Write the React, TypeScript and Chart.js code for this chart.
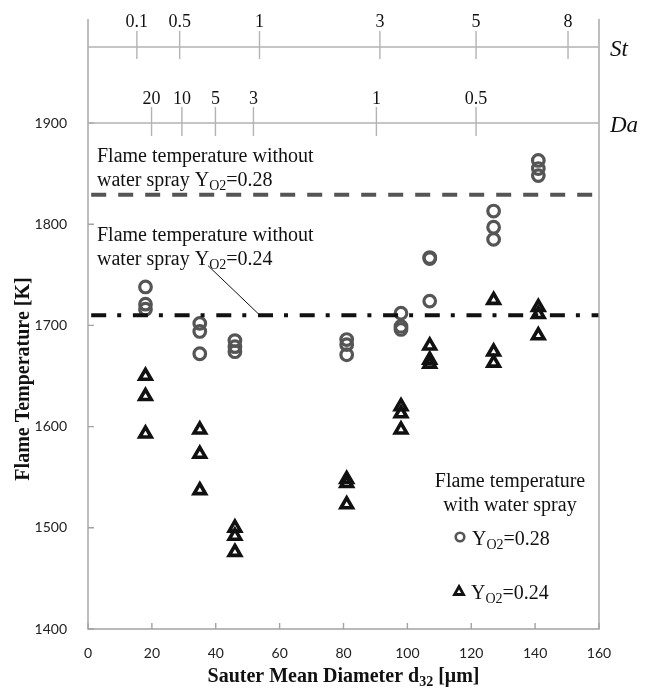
import React, { useEffect, useRef } from 'react';
import { Chart, registerables } from 'chart.js';

Chart.register(...registerables);

// Sauter mean diameter of each measured case [µm]
const clusterX = [18, 35, 46, 81, 98, 107, 127, 141];
// Flame temperature with water spray, Y_O2 = 0.28 [K]
const temps028 = [
  [1738, 1721, 1716],
  [1702, 1694, 1672],
  [1685, 1679, 1674],
  [1686, 1681, 1671],
  [1712, 1699, 1696],
  [1767, 1766, 1724],
  [1813, 1797, 1785],
  [1863, 1855, 1848],
];
// Flame temperature with water spray, Y_O2 = 0.24 [K]
const temps024 = [
  [1650, 1630, 1593],
  [1597, 1573, 1537],
  [1500, 1492, 1476],
  [1548, 1544, 1523],
  [1620, 1613, 1597],
  [1680, 1666, 1662],
  [1725, 1674, 1663],
  [1718, 1711, 1690],
];
// Flame temperature without water spray [K]
const noSpray028 = 1829;
const noSpray024 = 1710;
const refLineX = [1, 160];
// Leader line from annotation to the dash-dot line
const leaderX = [37.6, 53.5];
const leaderY = [1759, 1711];

// Secondary axes (Stokes and Damköhler numbers) located on d32 scale
const stLabels = ['0.1', '0.5', '1', '3', '5', '8'];
const stAtD32 = [15.3, 28.7, 53.7, 91.4, 121.5, 150.3];
const daLabels = ['20', '10', '5', '3', '1', '0.5'];
const daAtD32 = [19.9, 29.4, 39.9, 51.8, 90.3, 121.5];

const xTickValues = [0, 20, 40, 60, 80, 100, 120, 140, 160];
const yTickValues = [1400, 1500, 1600, 1700, 1800, 1900];

const SERIF = '"Liberation Serif", "Times New Roman", serif';

type Part = { t: string; sub?: boolean };

function richWidth(ctx: CanvasRenderingContext2D, parts: Part[], size: number, bold = false) {
  let w = 0;
  for (const p of parts) {
    ctx.font = `${bold ? 'bold ' : ''}${p.sub ? Math.round(size * 0.7) : size}px ${SERIF}`;
    w += ctx.measureText(p.t).width;
  }
  return w;
}

function drawRich(
  ctx: CanvasRenderingContext2D,
  parts: Part[],
  x: number,
  y: number,
  size: number,
  align: 'left' | 'center' = 'left',
  bold = false
) {
  let cx = align === 'center' ? x - richWidth(ctx, parts, size, bold) / 2 : x;
  ctx.textAlign = 'left';
  ctx.textBaseline = 'alphabetic';
  for (const p of parts) {
    const s = p.sub ? Math.round(size * 0.7) : size;
    ctx.font = `${bold ? 'bold ' : ''}${s}px ${SERIF}`;
    ctx.fillText(p.t, cx, p.sub ? y + size * 0.22 : y);
    cx += ctx.measureText(p.t).width;
  }
}

const decorPlugin = {
  id: 'decor',
  afterDraw(chart: any) {
    const { ctx, chartArea: a, scales } = chart;
    const xs = scales.x;
    const ys = scales.y;
    ctx.save();
    const axisGray = '#a3a3a3';
    ctx.strokeStyle = axisGray;
    ctx.lineWidth = 1.4;
    // frame
    ctx.beginPath();
    ctx.moveTo(a.left, 19);
    ctx.lineTo(a.left, a.bottom);
    ctx.lineTo(a.right, a.bottom);
    ctx.lineTo(a.right, 19);
    ctx.stroke();
    // inner ticks
    ctx.beginPath();
    for (const v of xTickValues) {
      const px = xs.getPixelForValue(v);
      ctx.moveTo(px, a.bottom);
      ctx.lineTo(px, a.bottom - 6);
    }
    for (const v of yTickValues) {
      const py = ys.getPixelForValue(v);
      ctx.moveTo(a.left, py);
      ctx.lineTo(a.left + 6, py);
    }
    ctx.stroke();

    // St axis
    ctx.strokeStyle = '#b3b3b3';
    ctx.lineWidth = 1.4;
    ctx.beginPath();
    ctx.moveTo(a.left, 47);
    ctx.lineTo(a.right, 47);
    stAtD32.forEach((v) => {
      const px = xs.getPixelForValue(v);
      ctx.moveTo(px, 31);
      ctx.lineTo(px, 59);
    });
    // Da axis
    ctx.moveTo(a.left, a.top);
    ctx.lineTo(a.right, a.top);
    daAtD32.forEach((v) => {
      const px = xs.getPixelForValue(v);
      ctx.moveTo(px, a.top - 16);
      ctx.lineTo(px, a.top + 13);
    });
    ctx.stroke();

    ctx.fillStyle = '#111';
    ctx.font = `18px ${SERIF}`;
    ctx.textAlign = 'center';
    ctx.textBaseline = 'alphabetic';
    stAtD32.forEach((v, i) => ctx.fillText(stLabels[i], xs.getPixelForValue(v), 27));
    daAtD32.forEach((v, i) => ctx.fillText(daLabels[i], xs.getPixelForValue(v), a.top - 19));
    ctx.font = `italic 23px ${SERIF}`;
    ctx.textAlign = 'left';
    ctx.fillText('St', a.right + 11, 56);
    ctx.fillText('Da', a.right + 11, a.top + 9);

    // annotations
    drawRich(ctx, [{ t: 'Flame temperature without' }], 97, 162, 20);
    drawRich(ctx, [{ t: 'water spray Y' }, { t: 'O2', sub: true }, { t: '=0.28' }], 97, 186, 20);
    drawRich(ctx, [{ t: 'Flame temperature without' }], 97, 241, 20);
    drawRich(ctx, [{ t: 'water spray Y' }, { t: 'O2', sub: true }, { t: '=0.24' }], 97, 265, 20);

    // legend
    drawRich(ctx, [{ t: 'Flame temperature' }], 510, 487, 20, 'center');
    drawRich(ctx, [{ t: 'with water spray' }], 510, 511, 20, 'center');
    ctx.strokeStyle = '#555';
    ctx.lineWidth = 2.6;
    ctx.beginPath();
    ctx.arc(460, 537, 4.3, 0, Math.PI * 2);
    ctx.stroke();
    drawRich(ctx, [{ t: 'Y' }, { t: 'O2', sub: true }, { t: '=0.28' }], 472, 545, 20);
    ctx.strokeStyle = '#111';
    ctx.lineWidth = 2.8;
    ctx.beginPath();
    ctx.moveTo(459, 586.5);
    ctx.lineTo(463.5, 594.5);
    ctx.lineTo(454.5, 594.5);
    ctx.closePath();
    ctx.stroke();
    drawRich(ctx, [{ t: 'Y' }, { t: 'O2', sub: true }, { t: '=0.24' }], 471, 599, 20);

    // axis titles
    drawRich(
      ctx,
      [{ t: 'Sauter Mean Diameter d' }, { t: '32', sub: true }, { t: ' [\u03bcm]' }],
      (a.left + a.right) / 2,
      682,
      20,
      'center',
      true
    );
    ctx.save();
    ctx.translate(29, (a.top + a.bottom) / 2 + 3);
    ctx.rotate(-Math.PI / 2);
    drawRich(ctx, [{ t: 'Flame Temperature [K]' }], 0, 0, 20, 'center', true);
    ctx.restore();

    ctx.restore();
  },
};

export default function App() {
  const ref = useRef<HTMLCanvasElement | null>(null);
  useEffect(() => {
    document.body.style.margin = '0';
    const canvas = ref.current;
    if (!canvas) return;
    const pts = (ys: number[][]) =>
      ys.flatMap((arr, i) => arr.map((v) => ({ x: clusterX[i], y: v })));
    const chart = new Chart(canvas, {
      type: 'scatter',
      data: {
        datasets: [
          {
            label: 'no spray 0.28',
            data: refLineX.map((x) => ({ x, y: noSpray028 })),
            showLine: true,
            borderColor: '#555',
            borderWidth: 4,
            borderDash: [15, 12],
            pointRadius: 0,
          },
          {
            label: 'no spray 0.24',
            data: refLineX.map((x) => ({ x, y: noSpray024 })),
            showLine: true,
            borderColor: '#111',
            borderWidth: 4,
            borderDash: [15, 11, 4, 11.7],
            pointRadius: 0,
          },
          {
            label: 'leader',
            data: leaderX.map((x, i) => ({ x, y: leaderY[i] })),
            showLine: true,
            borderColor: '#111',
            borderWidth: 1,
            pointRadius: 0,
          },
          {
            label: 'YO2=0.28',
            data: pts(temps028),
            pointStyle: 'circle',
            pointRadius: 5.8,
            borderWidth: 3.2,
            borderColor: '#555',
            backgroundColor: 'rgba(0,0,0,0)',
          },
          {
            label: 'YO2=0.24',
            data: pts(temps024),
            pointStyle: 'triangle',
            pointRadius: 6.6,
            borderWidth: 3.6,
            borderColor: '#111',
            backgroundColor: 'rgba(0,0,0,0)',
          },
        ],
      },
      options: {
        responsive: false,
        animation: false,
        layout: { padding: { top: 123, right: 55, left: 0, bottom: 0 } },
        plugins: { legend: { display: false }, tooltip: { enabled: false } },
        scales: {
          x: {
            type: 'linear',
            min: 0,
            max: 160,
            afterFit: (s: any) => {
              s.height = 62;
            },
            afterBuildTicks: (s: any) => {
              s.ticks = xTickValues.map((v) => ({ value: v }));
            },
            grid: { display: false },
            border: { display: false },
            ticks: {
              padding: 8,
              color: '#222',
              font: { family: 'Lato', size: 14 },
              callback: (v: any) => String(v),
            },
          },
          y: {
            type: 'linear',
            min: 1400,
            max: 1900,
            afterFit: (s: any) => {
              s.width = 88;
            },
            afterBuildTicks: (s: any) => {
              s.ticks = yTickValues.map((v) => ({ value: v }));
            },
            grid: { display: false },
            border: { display: false },
            ticks: {
              padding: 13,
              color: '#222',
              font: { family: 'Lato', size: 14 },
              callback: (v: any) => String(v),
            },
          },
        },
      },
      plugins: [decorPlugin],
    });
    return () => chart.destroy();
  }, []);
  return (
    <div style={{ width: 654, height: 691 }}>
      <canvas ref={ref} width={654} height={691} />
    </div>
  );
}
